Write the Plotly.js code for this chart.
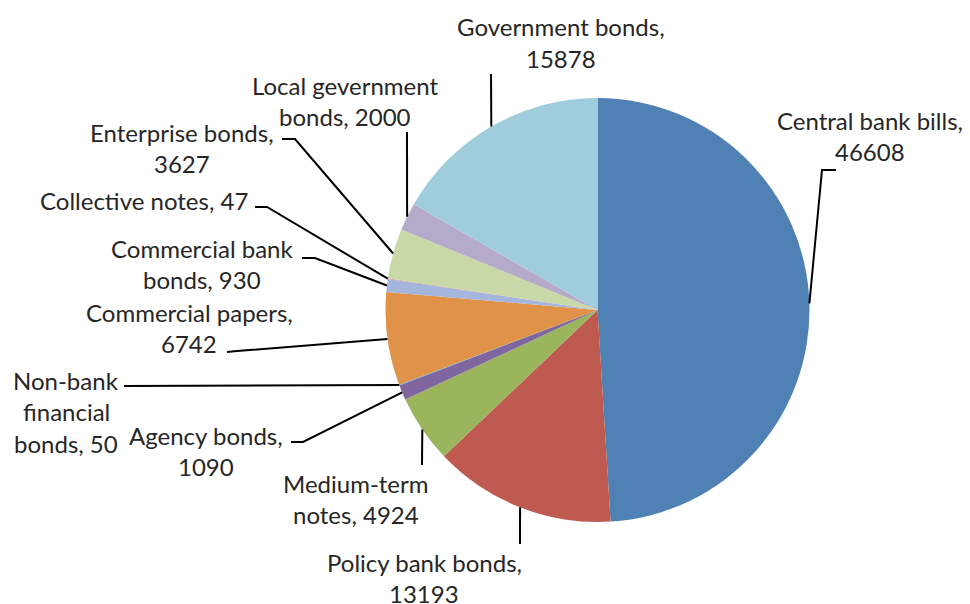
<!DOCTYPE html>
<html>
<head>
<meta charset="utf-8">
<script src="https://cdn.plot.ly/plotly-3.0.1.min.js"></script>
<style>
html,body{margin:0;padding:0;background:#fff;}
#chart{width:970px;height:604px;}
</style>
</head>
<body>
<div id="chart"></div>
<script>
// ---- data ----
const categories = ["Central bank bills", "Policy bank bonds", "Medium-term notes", "Agency bonds",
  "Non-bank financial bonds", "Commercial papers", "Commercial bank bonds", "Collective notes",
  "Enterprise bonds", "Local gevernment bonds", "Government bonds"];
const values = [46608, 13193, 4924, 1090, 50, 6742, 930, 47, 3627, 2000, 15878];
const colors = ["#4F81B4", "#BE5A50", "#9BB55C", "#8066A0", "#4BACC6", "#E09248",
  "#A5B6DC", "#D99694", "#C8D8A6", "#B5AACA", "#A0CDDC"];
// words per label line
const labelWords = [[3,1],[3,1],[1,2],[2,1],[1,1,2],[2,1],[2,2],[3],[2,1],[2,2],[2,1]];

// ---- layout (pixels) ----
const W = 970, H = 604;
const cx = 597.5, cy = 310, R = 212;
const labelPos = [[870,120],[424,562],[356,483],[206,435],[66,380],[189,312],[202,248],[144,200],[182,132],[345,85],[561,27]];
const lineStep = 31.5;
const leaderPts = [
  [[836,170],[822,170]],
  [[520,544]],
  [[422,465]],
  [[291,442],[303,442]],
  [[124,386]],
  [[227,352],[237,351]],
  [[302,258],[315,258]],
  [[255,207],[267,207]],
  [[282,139],[295,139]],
  [[407,132]],
  [[491,74]]
];
const FONT = "Lato, 'Open Sans', sans-serif";
const FS = 24;
const TXT = "#262626";

const px = x => x / W;
const py = y => 1 - y / H;

const total = values.reduce((a,b)=>a+b,0);
let cum = 0;
const anchors = values.map(v => {
  const mid = (cum + v/2) / total * 2 * Math.PI;
  cum += v;
  return [cx + R*Math.sin(mid), cy - R*Math.cos(mid)];
});

const annotations = [];
const shapes = [];
categories.forEach((name, i) => {
  const words = (name + ", " + values[i]).split(" ");
  let k = 0;
  labelWords[i].forEach((n, li) => {
    const line = words.slice(k, k+n).join(" ");
    k += n;
    annotations.push({
      xref:"paper", yref:"paper",
      x: px(labelPos[i][0]), y: py(labelPos[i][1] + li*lineStep),
      xanchor:"center", yanchor:"middle",
      text: line, showarrow:false, borderpad:0,
      font:{family:FONT, size:FS, color:TXT}
    });
  });
  const pts = leaderPts[i].concat([anchors[i]]);
  const path = pts.map((p,j)=> (j?"L ":"M ") + px(p[0]).toFixed(5) + "," + py(p[1]).toFixed(5)).join(" ");
  shapes.push({type:"path", xref:"paper", yref:"paper", path:path,
    line:{color:"#000", width:2}});
});

const trace = {
  type:"pie",
  labels: categories,
  values: values,
  sort:false,
  direction:"clockwise",
  rotation:0,
  marker:{colors:colors, line:{width:0}},
  textinfo:"none",
  hoverinfo:"label+value",
  showlegend:false,
  domain:{x:[px(cx-R), px(cx+R)], y:[py(cy+R), py(cy-R)]}
};

Plotly.newPlot("chart", [trace], {
  width:W, height:H,
  margin:{l:0,r:0,t:0,b:0},
  paper_bgcolor:"#fff",
  showlegend:false,
  annotations:annotations,
  shapes:shapes
}, {displayModeBar:false, staticPlot:true});
</script>
</body>
</html>
